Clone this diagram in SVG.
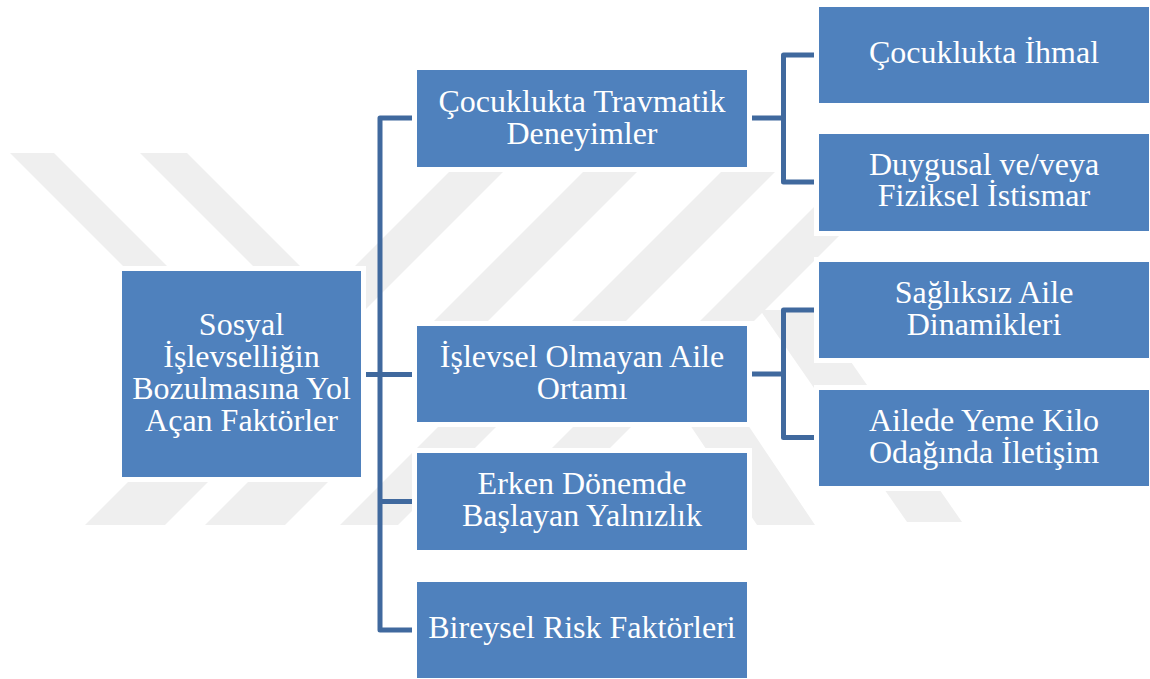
<svg xmlns="http://www.w3.org/2000/svg" width="1150" height="679" viewBox="0 0 1150 679">
  <style>
    .wm { fill: #EFEFEF; }
    .box { fill: #4F81BD; stroke: #FFFFFF; stroke-width: 10; paint-order: stroke; }
    .lbl { fill: #FFFFFF; font-family: "Liberation Serif", "Times New Roman", serif; font-size: 32px; text-anchor: middle; }
    .conn { fill: none; stroke: #40699E; stroke-width: 5; stroke-linejoin: round; }
  </style>
  <rect x="0" y="0" width="1150" height="679" fill="#FFFFFF"/>
  <g id="watermark">
    <polygon class="wm" points="10,153 54,153 201,300 157,300"/>
    <polygon class="wm" points="140,153 187,153 334,300 287,300"/>
    <polygon class="wm" points="300,321 354,321 503,172 449,172"/>
    <polygon class="wm" points="434,321 488,321 637,172 583,172"/>
    <polygon class="wm" points="572,321 626,321 775,172 721,172"/>
    <polygon class="wm" points="700,321 754,321 903,172 849,172"/>
    <polygon class="wm" points="760,310 815,310 962,522 907,522"/>
    <polygon class="wm" points="690,425 748,425 815,525 757,525"/>
    <polygon class="wm" points="85,525 165,525 212,478 132,478"/>
    <polygon class="wm" points="205,525 285,525 332,478 252,478"/>
    <polygon class="wm" points="340,525 398,525 503,420 445,420"/>
    <polygon class="wm" points="475,525 533,525 638,420 580,420"/>
  </g>
  <g id="connectors">
    <path class="conn" d="M361 374.5 H380"/>
    <path class="conn" d="M417 118 H380 V630 H417"/>
    <path class="conn" d="M380 374.5 H417"/>
    <path class="conn" d="M380 501.5 H417"/>
    <path class="conn" d="M747 118 H783.5"/>
    <path class="conn" d="M819 55 H783.5 V182 H819"/>
    <path class="conn" d="M747 374 H783.5"/>
    <path class="conn" d="M819 310 H783.5 V437.5 H819"/>
  </g>
  <g id="node-root">
    <rect class="box" x="122" y="271" width="239" height="206"/>
    <text class="lbl" x="241.5" y="335">Sosyal</text>
    <text class="lbl" x="241.5" y="367">İşlevselliğin</text>
    <text class="lbl" x="241.5" y="399">Bozulmasına Yol</text>
    <text class="lbl" x="241.5" y="431">Açan Faktörler</text>
  </g>
  <g id="node-travmatik">
    <rect class="box" x="417" y="70" width="330" height="97"/>
    <text class="lbl" x="582" y="112">Çocuklukta Travmatik</text>
    <text class="lbl" x="582" y="144">Deneyimler</text>
  </g>
  <g id="node-aile">
    <rect class="box" x="417" y="326" width="330" height="96"/>
    <text class="lbl" x="582" y="367">İşlevsel Olmayan Aile</text>
    <text class="lbl" x="582" y="399">Ortamı</text>
  </g>
  <g id="node-yalnizlik">
    <rect class="box" x="417" y="453" width="330" height="97"/>
    <text class="lbl" x="582" y="494">Erken Dönemde</text>
    <text class="lbl" x="582" y="526">Başlayan Yalnızlık</text>
  </g>
  <g id="node-bireysel">
    <rect class="box" x="417" y="582" width="330" height="96"/>
    <text class="lbl" x="582" y="638">Bireysel Risk Faktörleri</text>
  </g>
  <g id="node-ihmal">
    <rect class="box" x="819" y="7" width="330" height="96"/>
    <text class="lbl" x="984" y="63">Çocuklukta İhmal</text>
  </g>
  <g id="node-istismar">
    <rect class="box" x="819" y="134" width="330" height="97"/>
    <text class="lbl" x="984" y="175">Duygusal ve/veya</text>
    <text class="lbl" x="984" y="206">Fiziksel İstismar</text>
  </g>
  <g id="node-dinamik">
    <rect class="box" x="819" y="262" width="330" height="96"/>
    <text class="lbl" x="984" y="303">Sağlıksız Aile</text>
    <text class="lbl" x="984" y="335">Dinamikleri</text>
  </g>
  <g id="node-iletisim">
    <rect class="box" x="819" y="390" width="330" height="96"/>
    <text class="lbl" x="984" y="431">Ailede Yeme Kilo</text>
    <text class="lbl" x="984" y="463">Odağında İletişim</text>
  </g>
</svg>
